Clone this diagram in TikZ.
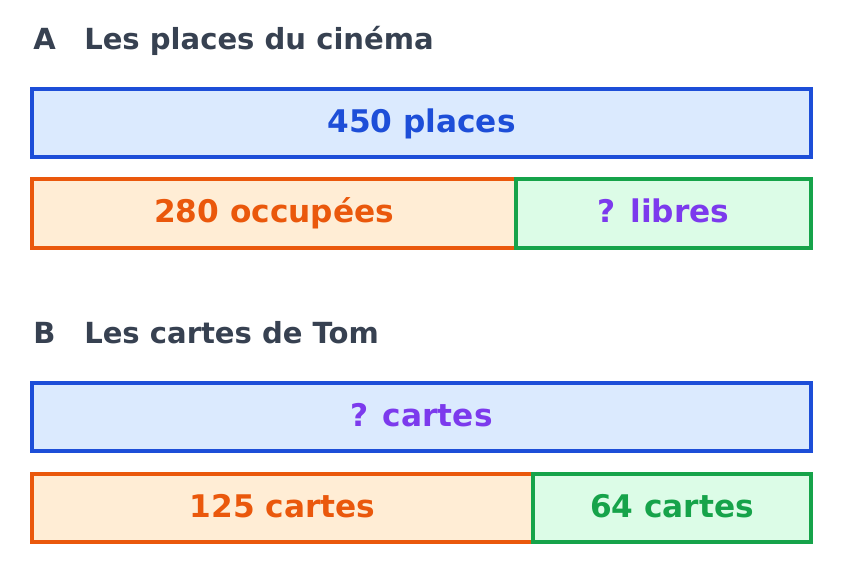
\documentclass[tikz,border=0pt]{standalone}
\usepackage{fontspec}
\setmainfont{DejaVu Sans}
\definecolor{titlegray}{HTML}{374151}
\definecolor{bblue}{HTML}{1D4ED8}
\definecolor{fblue}{HTML}{DBEAFE}
\definecolor{borange}{HTML}{EA580C}
\definecolor{forange}{HTML}{FFEDD5}
\definecolor{bgreen}{HTML}{16A34A}
\definecolor{fgreen}{HTML}{DCFCE7}
\definecolor{tpurple}{HTML}{7C3AED}
\tikzset{
  titletext/.style={anchor=base west, inner sep=0pt, text=titlegray, font=\fontsize{21.8pt}{26pt}\selectfont\bfseries},
  bar/.style={rectangle, inner sep=0pt, outer sep=0pt, line width=2.6pt, text height=17pt, text depth=3pt, font=\fontsize{23.4pt}{28pt}\selectfont\bfseries},
  bluebar/.style={bar, draw=bblue, fill=fblue},
  orangebar/.style={bar, draw=borange, fill=forange},
  greenbar/.style={bar, draw=bgreen, fill=fgreen},
}
\begin{document}
\begin{tikzpicture}[x=0.75pt,y=-0.75pt]
\path[use as bounding box, fill=white] (0,0) rectangle (843,584);
% Section A
\node[titletext] (aA) at (33,50) {A};
\node[titletext] (aT) at (84,50) {Les places du cinéma};
\node[bluebar, minimum width=584.25pt, minimum height=51pt, text=bblue] (aTop) at (421.5,123) {450 places};
\node[orangebar, minimum width=363pt, minimum height=51.75pt, text=borange] (aLeft) at (274,213.5) {280 occupées};
\node[greenbar, minimum width=221.25pt, minimum height=51.75pt, text=tpurple] (aRight) at (663.5,213.5) {? libres};
% Section B
\node[titletext] (bB) at (33,344) {B};
\node[titletext] (bT) at (84,344) {Les cartes de Tom};
\node[bluebar, minimum width=584.25pt, minimum height=51pt, text=tpurple] (bTop) at (421.5,417) {? cartes};
\node[orangebar, minimum width=375.75pt, minimum height=51pt, text=borange] (bLeft) at (282.5,508) {125 cartes};
\node[greenbar, minimum width=208.5pt, minimum height=51pt, text=bgreen] (bRight) at (672,508) {64 cartes};
\end{tikzpicture}
\end{document}
